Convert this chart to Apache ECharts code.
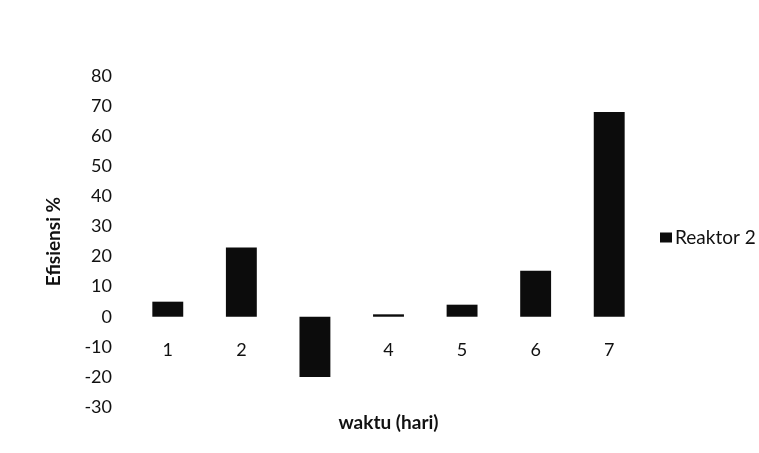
<!DOCTYPE html>
<html>
<head>
<meta charset="utf-8">
<script src="https://cdn.jsdelivr.net/npm/echarts@6/dist/echarts.min.js"></script>
<style>
  html, body { margin: 0; padding: 0; background: #ffffff; }
  #chart { width: 759px; height: 453px; }
</style>
</head>
<body>
<div id="chart"></div>
<script>
// Efficiency of reactor 2 per day
const days = ['1', '2', '3', '4', '5', '6', '7'];
const reaktor2 = [5, 23, -20, 0.8, 4, 15.3, 68];
const yTicks = { min: -30, max: 80, interval: 10 };

const fontFamily = 'Lato, "Open Sans", sans-serif';
const gridTop = 76, gridBottom = 46, chartHeight = 453;
// pixel distance from the bottom of the plot to the zero line, so the day labels sit next to 0
const plotHeight = chartHeight - gridTop - gridBottom;
const zeroOffset = plotHeight * (0 - yTicks.min) / (yTicks.max - yTicks.min);

const chart = echarts.init(document.getElementById('chart'));
chart.setOption({
  backgroundColor: '#ffffff',
  animation: false,
  textStyle: { fontFamily: fontFamily },
  grid: { left: 131, right: 113, top: gridTop, bottom: gridBottom, containLabel: false, outerBoundsMode: 'none' },
  legend: {
    data: ['Reaktor 2'],
    orient: 'vertical',
    left: 655,
    top: 223,
    itemWidth: 12,
    itemHeight: 10,
    itemGap: 4,
    icon: 'rect',
    textStyle: { fontFamily: fontFamily, fontSize: 19, color: '#111', padding: [0, 0, 0, -2] }
  },
  xAxis: {
    type: 'category',
    data: days,
    position: 'bottom',
    offset: -zeroOffset,
    name: 'waktu (hari)',
    nameLocation: 'middle',
    nameGap: 97,
    nameTextStyle: { fontFamily: fontFamily, fontSize: 19, fontWeight: 'bold', color: '#111' },
    axisLine: { show: false, onZero: false },
    axisTick: { show: false },
    axisLabel: { margin: 24, fontSize: 18, color: '#111', fontFamily: fontFamily },
    splitLine: { show: false }
  },
  yAxis: {
    type: 'value',
    min: yTicks.min,
    max: yTicks.max,
    interval: yTicks.interval,
    name: 'Efisiensi %',
    nameLocation: 'middle',
    nameGap: 68,
    nameRotate: 90,
    nameTextStyle: { fontFamily: fontFamily, fontSize: 19, fontWeight: 'bold', color: '#111' },
    axisLine: { show: false },
    axisTick: { show: false },
    axisLabel: { margin: 19, fontSize: 18, color: '#111', fontFamily: fontFamily },
    splitLine: { show: false }
  },
  series: [{
    name: 'Reaktor 2',
    type: 'bar',
    data: reaktor2,
    barWidth: '42%',
    itemStyle: { color: '#0c0c0c' }
  }]
});
</script>
</body>
</html>
